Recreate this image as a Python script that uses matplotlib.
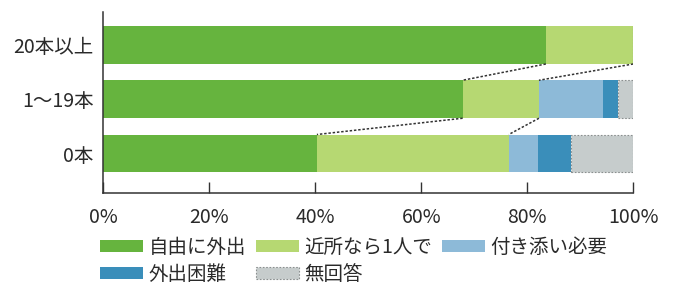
import matplotlib
matplotlib.use("Agg")
import matplotlib.pyplot as plt
import numpy as np

plt.rcParams['font.family'] = ['Noto Sans CJK JP', 'DejaVu Sans']

categories = ["20本以上", "1〜19本", "0本"]
series_names = ["自由に外出", "近所なら1人で", "付き添い必要", "外出困難", "無回答"]
free_out = [83.5, 67.8, 40.3]
nearby_alone = [16.5, 14.4, 36.2]
need_escort = [0.0, 12.1, 5.6]
hard_out = [0.0, 2.9, 6.1]
no_answer = [0.0, 2.8, 11.8]
xticks = [0, 20, 40, 60, 80, 100]
xtick_labels = ["0%", "20%", "40%", "60%", "80%", "100%"]

colors = ["#66b43e", "#b6d872", "#8dbad8", "#3a8eba", "#c6cccc"]

fig = plt.figure(figsize=(6.76, 2.86), dpi=100)
ax = fig.add_axes([103.3/676, 93/286, (633.3-103.3)/676, (193-12)/286])

ypos = np.arange(len(categories))[::-1]  # top to bottom
series = [free_out, nearby_alone, need_escort, hard_out, no_answer]
left = np.zeros(len(categories))
bh = 0.70
for i, (vals, name, col) in enumerate(zip(series, series_names, colors)):
    vals = np.array(vals)
    if i == 4:
        ax.barh(ypos, vals, left=left, height=bh, color=col, label=name,
                edgecolor="#8a8f8f", linewidth=0.8, linestyle=(0, (1.5, 1.5)))
    else:
        ax.barh(ypos, vals, left=left, height=bh, color=col, label=name, linewidth=0)
    left = left + vals

# connector dotted lines between cumulative boundaries
c1 = np.array(free_out)
c2 = c1 + np.array(nearby_alone)
for k in range(len(categories) - 1):
    y_top = ypos[k] - bh / 2
    y_bot = ypos[k + 1] + bh / 2
    for c in (c1, c2):
        ax.plot([c[k], c[k + 1]], [y_top, y_bot], color="#333333",
                linewidth=1.1, linestyle=(0, (1.6, 1.2)))

ax.set_xlim(0, 100)
ax.set_ylim(-0.728, 2.608)
ax.set_yticks(ypos)
ax.set_yticklabels(categories, fontsize=14, color="#2a2a2a")
ax.set_xticks(xticks)
ax.set_xticklabels(xtick_labels, fontsize=14, color="#2a2a2a")
ax.tick_params(axis='y', length=0, pad=7)
ax.tick_params(axis='x', direction='in', length=8, width=1, color="#333333", pad=10)
for s in ("top", "right"):
    ax.spines[s].set_visible(False)
for s in ("left", "bottom"):
    ax.spines[s].set_color("#333333")
    ax.spines[s].set_linewidth(1.1)

handles, labels = ax.get_legend_handles_labels()
order = [0, 3, 1, 4, 2]
leg = fig.legend([handles[i] for i in order], [labels[i] for i in order],
                 loc="upper left", bbox_to_anchor=(100/676, 1 - 237/286),
                 ncol=3, frameon=False, fontsize=14, handlelength=2.2,
                 handleheight=0.6, handletextpad=0.3, columnspacing=0.5,
                 labelspacing=0.3, borderpad=0, borderaxespad=0)
for t in leg.get_texts():
    t.set_color("#2a2a2a")

fig.savefig("out.png", dpi=100)
